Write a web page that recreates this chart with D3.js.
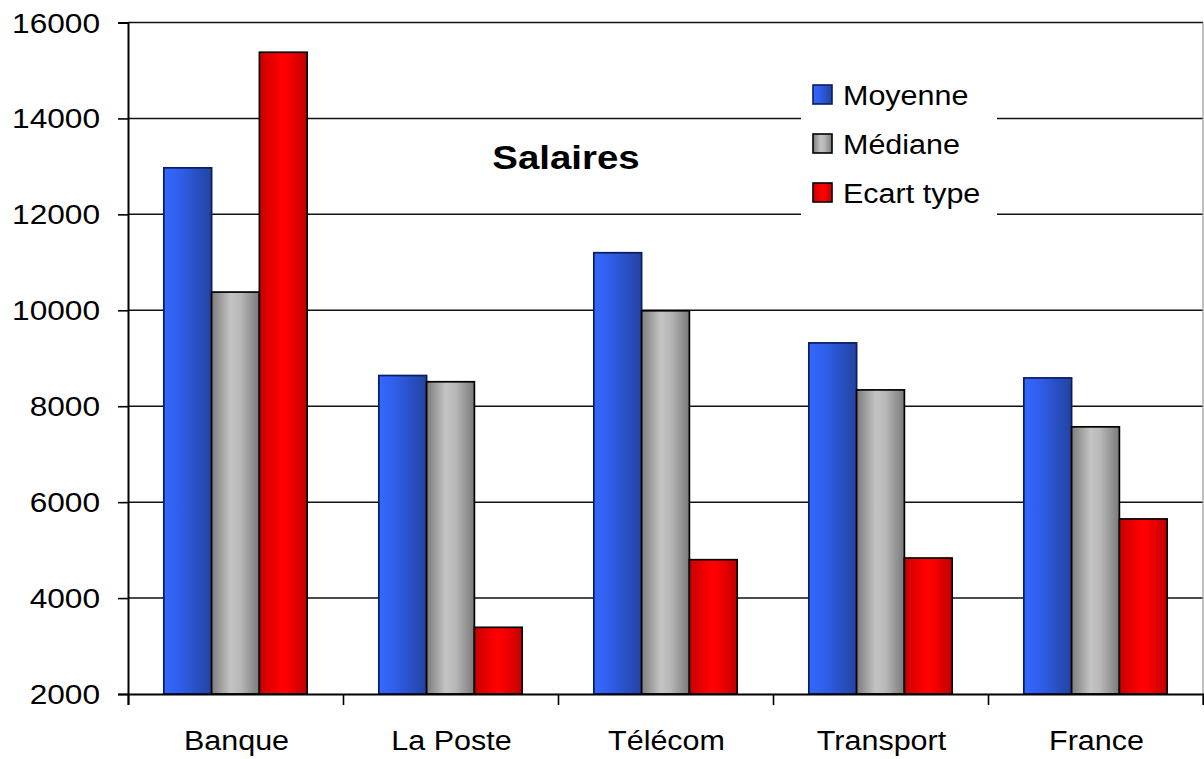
<!DOCTYPE html>
<html><head><meta charset="utf-8">
<script src="https://cdn.jsdelivr.net/npm/d3@7"></script>
<style>body{margin:0;background:#fff}svg{display:block}text{font-family:"Liberation Sans",Arial,sans-serif;fill:#000}</style>
</head><body><svg id="c" width="1204" height="759"></svg>
<script>
const categories = ["Banque","La Poste","Télécom","Transport","France"];
const seriesNames = ["Moyenne","Médiane","Ecart type"];
const moyenne = [12970, 8640, 11200, 9320, 8590];
const mediane = [10380, 8510, 9990, 8340, 7570];
const ecartType = [15380, 3390, 4800, 4835, 5650];
const yTicks = [2000,4000,6000,8000,10000,12000,14000,16000];
const title = "Salaires";

const values = [moyenne, mediane, ecartType];
const svg = d3.select("#c");
const L = 128, R = 1203, T = 22.5, B = 694;
const SX = 1.13, FS = 27;

const defs = svg.append("defs");
function grad(id, stops){
  const g = defs.append("linearGradient").attr("id",id).attr("x1","0%").attr("x2","100%").attr("y1","0%").attr("y2","0%");
  stops.forEach(s=>g.append("stop").attr("offset",s[0]).attr("stop-color",s[1]));
}
grad("gBlue",[["0%","#3468ff"],["35%","#2f5ee8"],["100%","#2343a0"]]);
grad("gGray",[["0%","#7c7c7c"],["40%","#c4c4c4"],["60%","#b8b8b8"],["100%","#7a7a7a"]]);
grad("gRed",[["0%","#c80000"],["45%","#ff0000"],["60%","#fa0000"],["100%","#c00000"]]);
const fills = ["url(#gBlue)","url(#gGray)","url(#gRed)"];
const strokes = ["#0b1d5e","#000","#000"];

const x0 = d3.scaleBand().domain(categories).range([L,R]).paddingInner(1/3).paddingOuter(1/6);
const x1 = d3.scaleBand().domain(seriesNames).range([0,x0.bandwidth()]).padding(0);
const y = d3.scaleLinear().domain([2000,16000]).range([B,T]);

function stxt(g, x, yy, txt, anchor, opts={}){
  const gg = g.append("g").attr("transform",`translate(${x},${yy}) scale(${SX},1)`);
  return gg.append("text").attr("text-anchor",anchor).attr("font-size",opts.size||FS)
    .attr("font-weight",opts.weight||"normal").text(txt);
}

// gridlines
svg.append("g").selectAll("line").data(yTicks.filter(d=>d>2000)).join("line")
  .attr("x1",L).attr("x2",R).attr("y1",d=>y(d)).attr("y2",d=>y(d))
  .attr("stroke","#111").attr("stroke-width",1.5);
// right border
svg.append("line").attr("x1",R).attr("x2",R).attr("y1",T).attr("y2",B).attr("stroke","#999").attr("stroke-width",1.2);

// legend box background (covers gridlines)
svg.append("rect").attr("x",801).attr("y",64).attr("width",196).attr("height",158).attr("fill","#fff");

// bars
const groups = svg.append("g").selectAll("g").data(categories).join("g")
  .attr("transform",d=>`translate(${x0(d)},0)`);
groups.selectAll("rect").data((c,i)=>seriesNames.map((s,j)=>({s,j,v:values[j][i]}))).join("rect")
  .attr("x",d=>x1(d.s)).attr("width",x1.bandwidth())
  .attr("y",d=>y(d.v)).attr("height",d=>B-y(d.v))
  .attr("fill",d=>fills[d.j]).attr("stroke",d=>strokes[d.j]).attr("stroke-width",1.7);

// y axis
const ya = svg.append("g").attr("transform",`translate(${L},0)`)
  .call(d3.axisLeft(y).tickValues(yTicks).tickSize(10).tickFormat(""));
ya.select(".domain").attr("stroke","#000").attr("stroke-width",2);
ya.selectAll(".tick line").attr("stroke","#000").attr("stroke-width",1.6);
yTicks.forEach(t=>stxt(svg,100,y(t)+10,String(t),"end",{size:28}));

// x axis
const xs = d3.scaleLinear().domain([0,5]).range([L,R]);
const xa = svg.append("g").attr("transform",`translate(0,${B})`)
  .call(d3.axisBottom(xs).tickValues([0,1,2,3,4,5]).tickSize(11).tickFormat(""));
xa.select(".domain").attr("stroke","#000").attr("stroke-width",2);
xa.selectAll(".tick line").attr("stroke","#000").attr("stroke-width",1.6);
categories.forEach(c=>stxt(svg,x0(c)+x0.bandwidth()/2+1,750,c,"middle"));

// title
stxt(svg,566,169,title,"middle",{size:34,weight:"bold"});

// legend
const ly = [105,154,203];
seriesNames.forEach((s,j)=>{
  svg.append("rect").attr("x",813).attr("y",ly[j]-20).attr("width",19).attr("height",19)
    .attr("fill",fills[j]).attr("stroke",j===0?"#0b1d5e":"#000").attr("stroke-width",1.6);
  stxt(svg,843,ly[j],s,"start");
});
</script></body></html>
